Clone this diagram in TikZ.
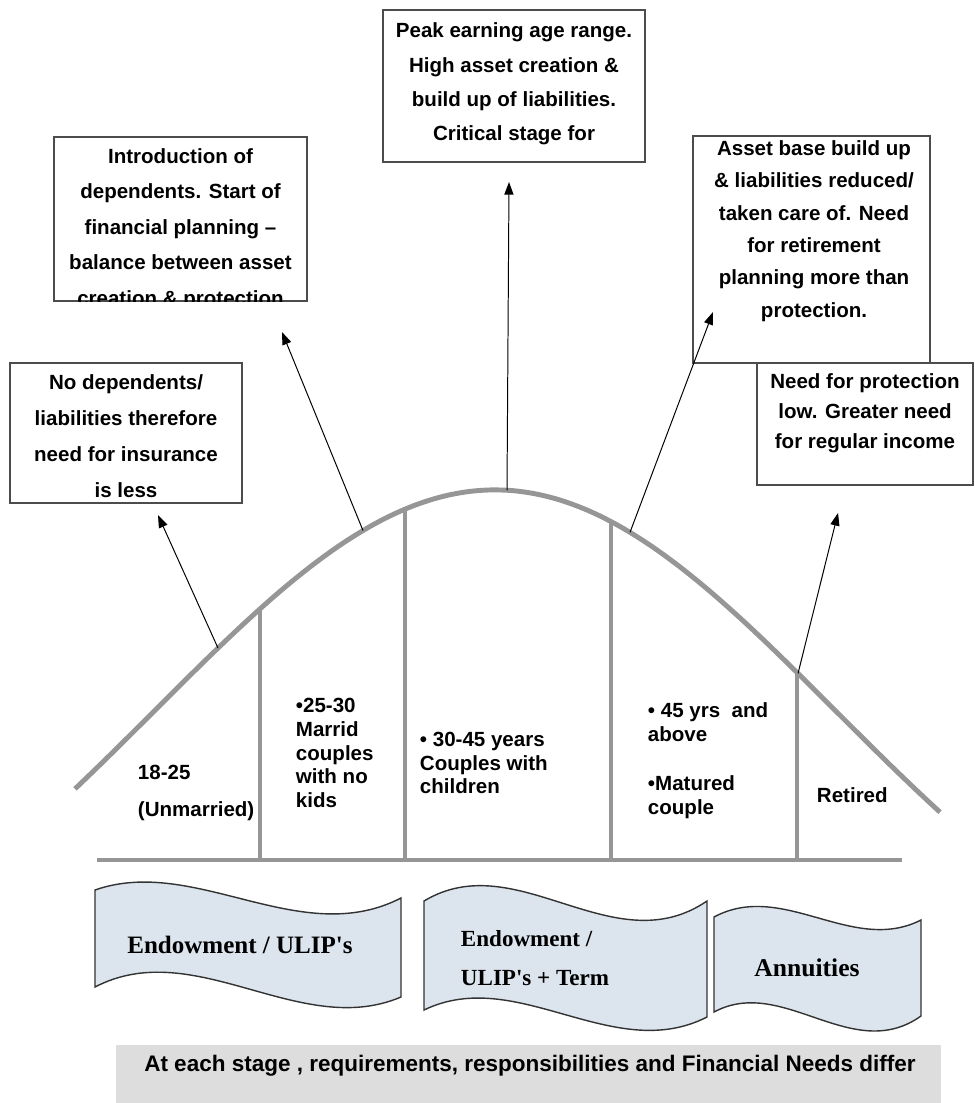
\documentclass[tikz,border=0pt]{standalone}
\usepackage{fontspec}
\setmainfont{Liberation Sans}
\newfontfamily\bannerfont{Liberation Serif}
\usetikzlibrary{arrows.meta,fit}

\definecolor{curvegray}{RGB}{150,150,150}
\definecolor{bannerblue}{RGB}{220,228,238}
\definecolor{notegray}{RGB}{221,221,221}

\tikzset{
  infobox/.style={draw=black!70, line width=1.1pt, fill=white, inner sep=0pt},
  boxtext/.style={align=center, font=\bfseries\fontsize{14.6}{#1}\selectfont},
  stagetext/.style={align=left, anchor=west, font=\bfseries\fontsize{14.6}{17}\selectfont},
  lifeline/.style={curvegray, line width=3.5pt},
  stageline/.style={curvegray, line width=2.8pt},
  pointer/.style={black, line width=0.7pt, -{Triangle[length=9pt,width=6.5pt]}},
  banner/.style={draw=black!80, line width=1pt, fill=bannerblue},
  bannertext/.style={align=left, font=\bannerfont\bfseries\fontsize{#1}{27.5}\selectfont}
}

\begin{document}
\begin{tikzpicture}[x=0.025cm, y=-0.025cm,
  declare function={lifey(\x)=490+560*(1-exp(0-((\x-495)/100)*((\x-495)/100)/23.12));}]
      \useasboundingbox (0,0) rectangle (974,1103);
      % stages under the curve
      \draw[stageline] (260,860) -- (260,{lifey(260)});
      \draw[stageline] (405,860) -- (405,{lifey(405)});
      \draw[stageline] (611,860) -- (611,{lifey(611)});
      \draw[stageline] (797,860) -- (797,{lifey(797)});
      \draw[lifeline] (97,860) -- (902,860);
      \draw[lifeline,domain=75:940,samples=80,smooth,variable=\x] plot ({\x},{lifey(\x)});
      \node[stagetext] (single) at (133,793) {18-25\\[9pt](Unmarried)};
      \node[stagetext] (married) at (291,753) {•25-30\\Marrid\\couples\\with no\\kids};
      \node[stagetext] (family) at (415,763) {• 30-45 years\\Couples with\\children};
      \node[stagetext] (mature) at (643,761) {• 45 yrs~ and\\above\\[18pt]•Matured\\couple};
      \node[stagetext] (retired) at (812,795) {Retired};
      % notes above the curve
      \node[infobox, fit={(383,10) (645,162)}] (peak) {};
      \node[boxtext=24.4] (peaktext) at (514,84) {Peak earning age range.\\High asset creation \&\\build up of liabilities.\\Critical stage for};
      \node[infobox, fit={(54,137) (307,301)}] (intro) {};
      \begin{scope}
        \clip (intro.south west) rectangle (intro.north east);
        \node[boxtext=25.2] (introtext) at (180.5,229) {Introduction of\\dependents. Start of\\financial planning --\\balance between asset\\creation \& protection};
      \end{scope}
      \node[infobox, fit={(10,363) (242,503)}] (nodeps) {};
      \node[boxtext=25.6] (nodepstext) at (126,436) {No dependents/\\liabilities therefore\\need for insurance\\is less};
      \node[infobox, fit={(693,136) (930,363)}] (asset) {};
      \node[boxtext=23] (assettext) at (814,231) {Asset base build up\\\& liabilities reduced/\\taken care of. Need\\for retirement\\planning more than\\protection.};
      \node[infobox, fit={(757,363) (973,485)}] (need) {};
      \node[boxtext=21.3] (needtext) at (865,413) {Need for protection\\low. Greater need\\for regular income};
      % arrows from the curve
      \coordinate (foot1) at (218,{lifey(218)});
      \coordinate (foot2) at (363,{lifey(363)});
      \coordinate (foot3) at (507,{lifey(507)});
      \coordinate (foot4) at (630,{lifey(630)});
      \coordinate (foot5) at (798,{lifey(798)});
      \coordinate (tip1) at (158,515);
      \coordinate (tip2) at (282,332);
      \coordinate (tip3) at (509,182);
      \coordinate (tip4) at (713,312);
      \coordinate (tip5) at (838,513);
      \draw[pointer] (foot1) -- (tip1);
      \draw[pointer] (foot2) -- (tip2);
      \draw[pointer] (foot3) -- (tip3);
      \draw[pointer] (foot4) -- (tip4);
      \draw[pointer] (foot5) -- (tip5);
      % products
      \draw[banner] (95,890) .. controls (195,855) and (300,950) .. (401,898) -- (401,997) .. controls (300,1040) and (195,935) .. (95,987) -- cycle;
      \node[bannertext=17.8] (ulip) at (240,945) {Endowment / ULIP's};
      \draw[banner] (424,901) .. controls (517,845) and (613,965) .. (707,901) -- (707,1017) .. controls (613,1065) and (517,965) .. (424,1010) -- cycle;
      \node[bannertext=16.4, anchor=west] (term) at (456,958) {Endowment /\\ULIP's + Term};
      \draw[banner] (714,917) .. controls (783,880) and (852,955) .. (921,920) -- (921,1016) .. controls (852,1065) and (783,975) .. (714,1012) -- cycle;
      \node[bannertext=18.2] (annuity) at (807,968) {Annuities};
      \node[fill=notegray, inner sep=0pt, fit={(116,1045) (941,1103)}] (notebar) {};
      \node[font=\bfseries\fontsize{16}{19}\selectfont] (notetext) at (530,1066) {At each stage , requirements, responsibilities and Financial Needs differ};
\end{tikzpicture}
\end{document}
